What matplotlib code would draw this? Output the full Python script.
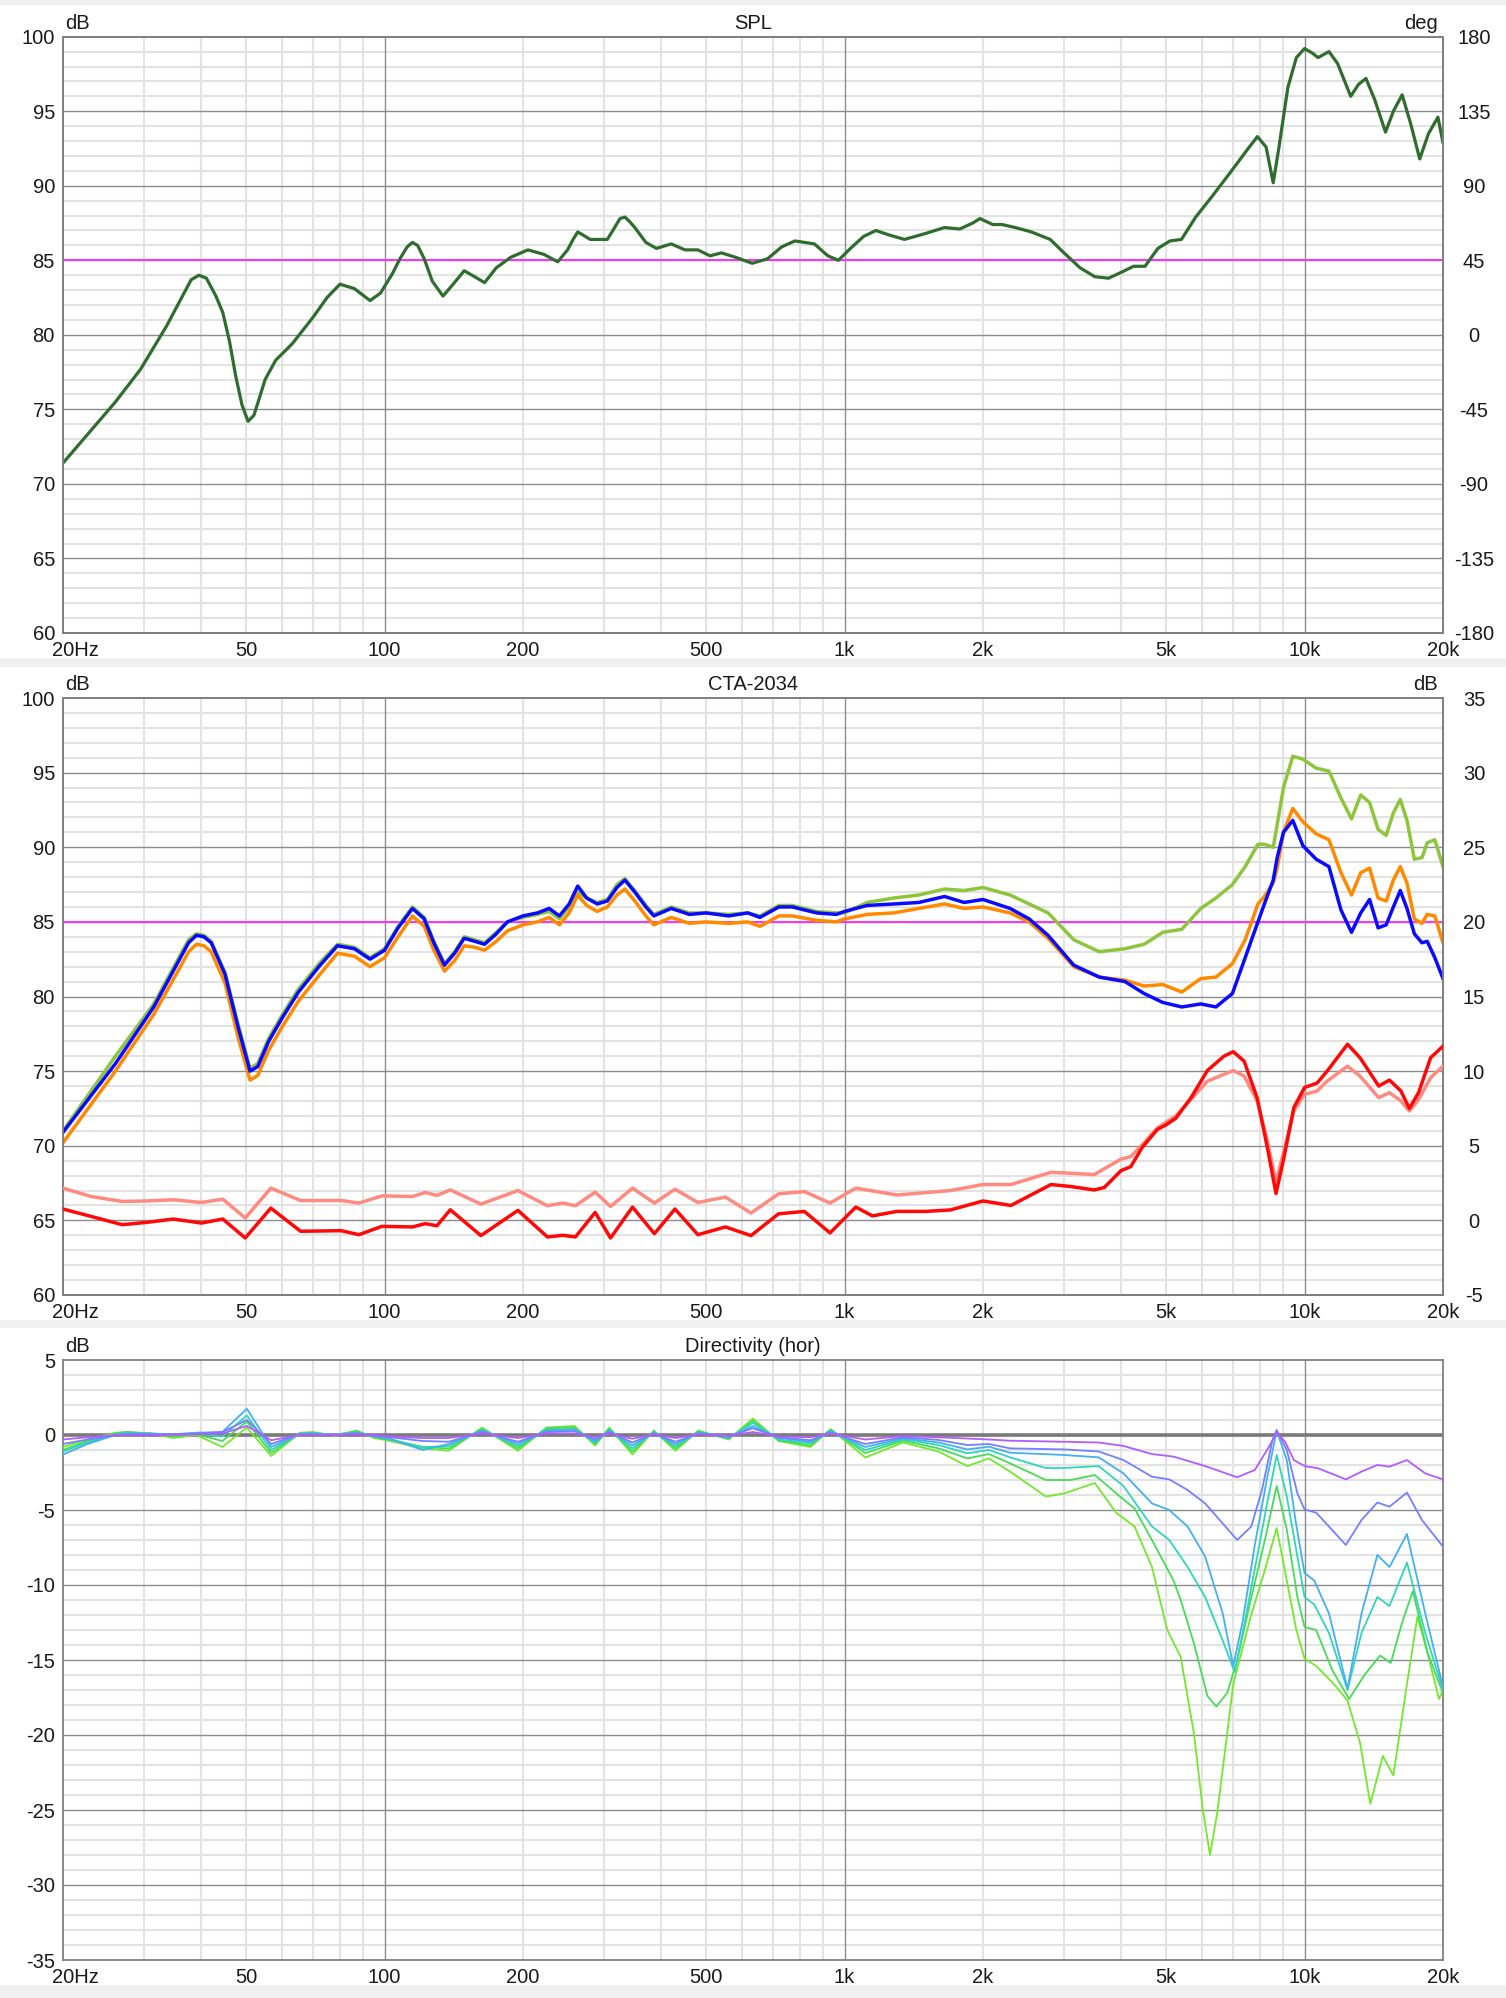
import matplotlib
matplotlib.use('Agg')
import matplotlib.pyplot as plt
from matplotlib.patches import Rectangle
from matplotlib.ticker import NullFormatter

plt.rcParams['font.family'] = ['Liberation Sans', 'DejaVu Sans']
plt.rcParams['axes.unicode_minus'] = False

# ---------------- data ----------------
spl_f = [20, 26, 29.5, 33.6, 36.8, 38, 39.5, 41, 43, 44.5, 46, 47.5, 49, 50.5, 52, 53.5, 55, 58, 63, 70,
         75, 80, 86, 93, 98, 104, 108, 112, 115, 118, 122, 127, 134, 141, 149, 157, 165, 175, 188, 205,
         222, 238, 250, 257, 263, 270, 280, 305, 315, 325, 333, 341, 350, 370, 390, 420, 450, 480, 510, 540,
         580, 630, 680, 730, 780, 860, 920, 970, 1030, 1100, 1170, 1250, 1350, 1500, 1650, 1780, 1900, 1970,
         2100, 2200, 2350, 2550, 2800, 3000, 3250, 3500, 3750, 4000, 4250, 4500, 4800, 5100, 5400, 5800,
         6300, 6900, 7500, 7900, 8250, 8550, 8800, 9200, 9600, 10000, 10400, 10700, 11300, 11800, 12600,
         13100, 13600, 14200, 15000, 15600, 16300, 17000, 17800, 18600, 19500, 20000]
spl_v = [71.4, 75.5, 77.7, 80.6, 82.9, 83.7, 84.0, 83.8, 82.6, 81.5, 79.6, 77.2, 75.3, 74.2, 74.6, 75.8,
         77.0, 78.3, 79.4, 81.2, 82.5, 83.4, 83.1, 82.3, 82.8, 84.1, 85.1, 85.9, 86.2, 86.0, 85.1, 83.6,
         82.6, 83.4, 84.3, 83.9, 83.5, 84.5, 85.2, 85.7, 85.4, 84.9, 85.7, 86.4, 86.9, 86.7, 86.4, 86.4,
         87.1, 87.8, 87.9, 87.6, 87.2, 86.2, 85.8, 86.1, 85.7, 85.7, 85.3, 85.5, 85.2, 84.8, 85.1, 85.9,
         86.3, 86.1, 85.3, 85.0, 85.8, 86.6, 87.0, 86.7, 86.4, 86.8, 87.2, 87.1, 87.5, 87.8, 87.4, 87.4,
         87.2, 86.9, 86.4, 85.5, 84.5, 83.9, 83.8, 84.2, 84.6, 84.6, 85.8, 86.3, 86.4, 87.9, 89.3, 90.9,
         92.4, 93.3, 92.6, 90.2, 92.6, 96.6, 98.6, 99.2, 98.9, 98.6, 99.0, 98.2, 96.0, 96.8, 97.2, 95.8,
         93.6, 95.0, 96.1, 94.2, 91.8, 93.5, 94.6, 92.9]

cta_f = [20, 26, 31.5, 36, 37.5, 39, 40.5, 42, 45, 48, 51, 53, 56, 60, 65, 72, 79, 86, 93, 100, 107, 115,
         122, 128, 135, 142, 149, 157, 165, 175, 185, 200, 215, 228, 240, 252, 263, 275, 290, 305, 320, 333,
         350, 370, 385, 420, 460, 500, 560, 616, 655, 720, 770, 870, 960, 1000, 1120, 1280, 1450, 1650, 1820,
         2000, 2290, 2520, 2770, 3150, 3580, 4070, 4480, 4920, 5410, 5950, 6420, 6970, 7430, 7920, 8180, 8550,
         8720, 9000, 9430, 9920, 10600, 11300, 12000, 12650, 13250, 13850, 14450, 15050, 15600, 16150, 16700,
         17330, 18000, 18480, 19200, 20000]
on_axis = [70.9, 75.5, 79.3, 82.6, 83.6, 84.1, 84.0, 83.6, 81.5, 78.0, 75.0, 75.3,
           77.0, 78.6, 80.3, 82.0, 83.4, 83.2, 82.5, 83.1, 84.6, 85.9,
           85.2, 83.6, 82.1, 82.9, 83.9, 83.7, 83.5, 84.2, 85.0, 85.4,
           85.6, 85.9, 85.4, 86.2, 87.4, 86.6, 86.2, 86.4, 87.3, 87.8,
           87.0, 86.0, 85.4, 85.9, 85.5, 85.6, 85.4, 85.6, 85.3, 86.0,
           86.0, 85.6, 85.5, 85.7,
           86.1, 86.2, 86.3, 86.7, 86.3, 86.5,
           85.9, 85.2, 84.1, 82.1, 81.3, 81.0, 80.2, 79.6, 79.3, 79.5,
           79.3, 80.2, 82.6, 85.0, 86.2, 87.8, 89.3, 91.0, 91.8, 90.1,
           89.2, 88.7, 85.8, 84.3, 85.6, 86.5, 84.6, 84.8, 86.0, 87.1,
           85.9, 84.2, 83.6, 83.7, 82.6, 81.2]
listening_window = [70.2, 75.0, 78.8, 82.0, 83.0, 83.5, 83.4, 83.0, 80.9, 77.3, 74.4, 74.7,
                    76.4, 78.0, 79.7, 81.4, 82.9, 82.7, 82.0, 82.6, 84.0, 85.4,
                    84.7, 83.1, 81.7, 82.4, 83.4, 83.3, 83.1, 83.7, 84.4, 84.8,
                    85.0, 85.3, 84.8, 85.6, 86.8, 86.1, 85.7, 86.0, 86.8, 87.2,
                    86.4, 85.4, 84.8, 85.3, 84.9, 85.0, 84.9, 85.0, 84.7, 85.4,
                    85.4, 85.1, 85.0, 85.2,
                    85.5, 85.6, 85.9, 86.2, 85.9, 86.0,
                    85.6, 85.0, 83.9, 82.0, 81.3, 81.1, 80.7, 80.8, 80.3, 81.2,
                    81.3, 82.2, 83.8, 86.2, 86.7, 87.6, 88.6, 91.0, 92.6, 91.7,
                    90.9, 90.5, 88.3, 86.8, 88.3, 88.6, 86.6, 86.4, 87.8, 88.7,
                    87.6, 85.2, 84.9, 85.5, 85.4, 83.6]
early_reflections = [71.0, 76.0, 79.5, 82.8, 83.8, 84.2, 84.1, 83.7, 81.6, 78.2, 75.2, 75.5,
                     77.2, 78.8, 80.5, 82.2, 83.5, 83.3, 82.6, 83.2, 84.7, 86.0,
                     85.3, 83.7, 82.2, 83.0, 84.0, 83.8, 83.6, 84.3, 85.0, 85.3,
                     85.5, 85.7, 85.2, 86.0, 87.0, 86.6, 86.3, 86.5, 87.5, 87.9,
                     87.1, 86.1, 85.5, 86.0, 85.6, 85.6, 85.5, 85.6, 85.4, 86.1,
                     86.1, 85.7, 85.6, 85.6,
                     86.3, 86.6, 86.8, 87.2, 87.1, 87.3,
                     86.8, 86.2, 85.6, 83.8, 83.0, 83.2, 83.5, 84.3, 84.5, 85.9,
                     86.6, 87.5, 88.7, 90.2, 90.2, 90.0, 91.5, 94.0, 96.1, 95.9,
                     95.3, 95.1, 93.3, 91.9, 93.5, 93.0, 91.2, 90.8, 92.3, 93.2,
                     91.8, 89.2, 89.3, 90.3, 90.5, 88.7]

di_sp_f = [20, 23, 26.9, 30.5, 34.7, 40, 44.5, 49.8, 56.6, 65.7, 80.5, 88, 98.7, 115, 122.6, 130, 139, 162,
           195, 226, 244, 260, 287, 310, 346, 386, 428, 480, 551, 626, 719, 818, 930, 1058, 1150, 1300, 1500,
           1700, 2000, 2300, 2810, 3100, 3490, 3670, 3990, 4190, 4440, 4790, 5000, 5250, 5660, 6150, 6680,
           7000, 7390, 7890, 8300, 8670, 9020, 9480, 10000, 10650, 11200, 12400, 13200, 14500, 15300, 16200,
           16900, 17700, 18800, 20000]
di_sp_v = [0.76, 0.27, -0.29, -0.13, 0.09, -0.18, 0.09, -1.18, 0.82, -0.73,
           -0.69, -0.96, -0.4, -0.44, -0.22, -0.36, 0.71, -1.02, 0.67, -1.11,
           -1.0, -1.11, 0.53, -1.18, 0.89, -0.89, 0.76, -0.96, -0.44, -1.02,
           0.44, 0.6, -0.84, 0.89, 0.3, 0.6, 0.6, 0.7, 1.3, 1.0,
           2.4, 2.27, 2.04, 2.2, 3.33, 3.6, 4.9, 6.1, 6.4, 6.84,
           8.2, 10.04, 11.0, 11.3, 10.67, 8.2, 4.9, 1.8, 4.2, 7.56,
           8.9, 9.2, 10.0, 11.8, 10.9, 9.0, 9.4, 8.67, 7.5, 8.56,
           10.9, 11.67]
di_er_f = [20, 23, 26.9, 30.5, 34.7, 40, 44.5, 49.8, 56.6, 65.7, 80.5, 88, 98.7, 115, 122.6, 130, 139, 162,
           195, 226, 244, 260, 287, 310, 346, 386, 428, 480, 551, 626, 719, 818, 930, 1058, 1300, 1700, 2000,
           2300, 2810, 3100, 3490, 3990, 4190, 4440, 4790, 5250, 5660, 6150, 7000, 7390, 7890, 8300, 8670,
           9020, 9480, 10000, 10650, 11200, 12400, 13200, 14500, 15300, 16200, 16900, 17700, 18800, 20000]
di_er_v = [2.16, 1.6, 1.27, 1.3, 1.38, 1.2, 1.42, 0.16, 2.16, 1.33,
           1.33, 1.16, 1.64, 1.6, 1.87, 1.67, 2.04, 1.09, 2.0, 0.98,
           1.16, 0.98, 1.89, 0.93, 2.16, 1.16, 2.09, 1.2, 1.56, 0.49,
           1.78, 1.93, 1.16, 2.16, 1.7, 2.0, 2.4, 2.4, 3.22, 3.16,
           3.07, 4.1, 4.27, 5.07, 6.2, 7.0, 8.1, 9.33, 10.04, 9.67,
           8.0, 5.33, 2.56, 4.67, 7.33, 8.44, 8.67, 9.33, 10.33, 9.67,
           8.22, 8.56, 8.0, 7.33, 8.1, 9.56, 10.33]

# directivity (horizontal), low-frequency part shared frequency grid
dir_lf_f = [20, 22.6, 26, 27.5, 31, 34.7, 39, 44.4, 50.2, 56.7, 65.4, 70, 77.7, 87, 95, 103, 121, 138, 163,
            195, 225, 259, 287, 308, 346, 385, 429, 481, 560, 632, 719, 843, 933, 1110, 1340]
dir1_lf = [-0.3, -0.15, 0.0, 0.0, 0.0, 0.0, 0.05, 0.1, 0.6, -0.35, 0.0, 0.0, 0.0, 0.05, 0.0, -0.1, -0.2, -0.2,
           0.1, -0.2, 0.1, 0.1, -0.15, 0.1, -0.25, 0.05, -0.2, 0.05, -0.05, 0.2, -0.1, -0.15, 0.1, -0.3, -0.07]
dir2_lf = [-0.6, -0.3, 0.0, 0.05, 0.05, 0.05, 0.1, 0.2, 1.0, -0.6, 0.05, 0.05, 0.0, 0.1, -0.05, -0.15, -0.4,
           -0.45, 0.2, -0.45, 0.2, 0.25, -0.3, 0.2, -0.5, 0.1, -0.45, 0.1, -0.1, 0.45, -0.15, -0.35, 0.15,
           -0.6, -0.15]
dir3_lf = [-1.3, -0.6, 0.0, 0.1, 0.1, 0.05, 0.15, 0.2, 1.75, -0.8, 0.05, 0.1, 0.0, 0.15, -0.1, -0.25, -1.0,
           -0.6, 0.3, -0.6, 0.3, 0.35, -0.4, 0.3, -0.7, 0.15, -0.6, 0.15, -0.15, 0.6, -0.2, -0.45, 0.25,
           -0.8, -0.22]
dir4_lf = [-1.1, -0.5, 0.05, 0.15, 0.1, 0.0, 0.1, -0.1, 1.3, -1.0, 0.1, 0.1, 0.0, 0.2, -0.1, -0.3, -0.8,
           -0.75, 0.35, -0.75, 0.35, 0.4, -0.5, 0.35, -0.9, 0.2, -0.75, 0.2, -0.2, 0.8, -0.3, -0.55, 0.3,
           -1.0, -0.29]
dir5_lf = [-1.0, -0.4, 0.1, 0.2, 0.1, -0.1, 0.05, -0.4, 0.9, -1.2, 0.1, 0.15, 0.0, 0.25, -0.15, -0.35, -0.8,
           -0.9, 0.4, -0.9, 0.45, 0.5, -0.6, 0.4, -1.1, 0.25, -0.9, 0.25, -0.25, 0.95, -0.35, -0.7, 0.35,
           -1.2, -0.38]
dir6_lf = [-0.8, -0.3, 0.15, 0.2, 0.1, -0.2, 0.0, -0.8, 0.5, -1.4, 0.15, 0.2, -0.05, 0.3, -0.2, -0.4, -0.9,
           -1.05, 0.5, -1.05, 0.5, 0.6, -0.7, 0.5, -1.3, 0.3, -1.05, 0.3, -0.3, 1.1, -0.4, -0.8, 0.4, -1.5,
           -0.5]

dir1_hf_f = [1600, 2060, 2290, 2990, 3570, 4040, 4660, 5190, 6080, 7140, 7800, 8370, 8700, 9070, 9480, 10000,
             10700, 11500, 12300, 13300, 14400, 15300, 16700, 18300, 20000]
dir1_hf = [-0.15, -0.3, -0.38, -0.45, -0.5, -0.73, -1.27, -1.44, -2.07, -2.82, -2.33, -0.78, 0.15, -0.44,
           -1.67, -2.07, -2.22, -2.6, -2.96, -2.44, -2.0, -2.11, -1.67, -2.56, -2.96]
dir2_hf_f = [1600, 1850, 2060, 2290, 2990, 3570, 4040, 4660, 5080, 5570, 6080, 6640, 7140, 7660, 8080, 8520,
             8700, 9150, 9650, 10000, 10600, 11300, 12300, 13300, 14400, 15300, 16700, 18000, 20000]
dir2_hf = [-0.33, -0.67, -0.6, -0.89, -0.96, -1.1, -1.67, -2.78, -2.96, -3.67, -4.56, -5.9, -7.0, -6.1, -3.67,
           -0.33, 0.33, -1.0, -3.89, -4.96, -5.18, -6.1, -7.33, -5.67, -4.5, -4.78, -3.84, -5.67, -7.44]
dir3_hf_f = [1600, 1850, 2060, 2290, 2990, 3570, 4040, 4660, 5080, 5570, 6080, 6640, 7000, 7330, 7800, 8300,
             8700, 9150, 9560, 10000, 10500, 11300, 12400, 13300, 14400, 15300, 16700, 18300, 20000]
dir3_hf = [-0.5, -0.96, -0.78, -1.18, -1.33, -1.49, -2.56, -4.56, -5.0, -6.1, -8.1, -11.9, -15.4, -12.5, -7.3,
           -2.8, 0.3, -1.67, -5.7, -9.2, -9.7, -11.9, -16.9, -11.9, -8.0, -8.8, -6.6, -11.9, -16.8]
dir4_hf_f = [1600, 1850, 2060, 2290, 2740, 3000, 3570, 4040, 4660, 5080, 5570, 6080, 6640, 7050, 7400, 7900,
             8300, 8700, 9150, 10000, 10500, 11300, 12400, 13300, 14400, 15300, 16700, 18300, 20000]
dir4_hf = [-0.67, -1.22, -1.0, -1.49, -2.2, -2.2, -2.07, -3.4, -6.1, -7.0, -8.8, -10.8, -13.7, -15.8, -12.6,
           -8.0, -4.5, -1.33, -4.1, -10.8, -11.3, -13.2, -17.0, -13.2, -10.8, -11.4, -8.5, -13.2, -17.0]
dir5_hf_f = [1600, 1850, 2060, 2290, 2740, 3100, 3500, 3900, 4270, 4660, 5190, 5380, 5750, 6150, 6430, 6790,
             7140, 7640, 8200, 8700, 9150, 9650, 10000, 10600, 11500, 12500, 13500, 14600, 15400, 16300, 17200,
             18500, 20000]
dir5_hf = [-0.89, -1.56, -1.27, -1.89, -3.0, -3.0, -2.67, -3.9, -4.9, -7.0, -9.7, -11.0, -13.9, -17.4, -18.1,
           -17.2, -15.0, -11.0, -7.0, -3.4, -6.3, -10.8, -12.8, -13.0, -15.7, -17.6, -16.0, -14.7, -15.2, -12.5,
           -10.4, -14.5, -17.2]
dir6_hf_f = [1600, 1850, 2060, 2290, 2740, 3000, 3500, 3900, 4270, 4660, 5030, 5380, 5750, 6000, 6230, 6460,
             6790, 7000, 7640, 8200, 8700, 9150, 9600, 10000, 10600, 11500, 12400, 13200, 13900, 14800, 15600,
             16700, 17600, 18500, 19600, 20000]
dir6_hf = [-1.1, -2.07, -1.56, -2.44, -4.1, -3.9, -3.2, -5.2, -6.1, -8.8, -13.0, -14.8, -19.9, -24.8, -28.0,
           -25.2, -19.9, -16.6, -12.1, -9.0, -6.2, -9.7, -13.0, -14.9, -15.4, -16.5, -17.7, -20.5, -24.6, -21.4,
           -22.7, -16.6, -12.1, -14.5, -17.6, -17.0]

dir_colors = ['#b25cff', '#7480ff', '#44b0f0', '#2fd6b8', '#45dd55', '#74e82c']

x_labels = [(20, '20Hz'), (50, '50'), (100, '100'), (200, '200'), (500, '500'), (1000, '1k'),
            (2000, '2k'), (5000, '5k'), (10000, '10k'), (20000, '20k')]

# ---------------- figure ----------------
W, H = 1506, 1998
fig = plt.figure(figsize=(W / 100, H / 100), dpi=100)
fig.patch.set_facecolor('white')
for y0, y1 in [(0, 5), (658, 667), (1320, 1328), (1985, 1998)]:
    fig.patches.append(Rectangle((0, 1 - y1 / H), 1, (y1 - y0) / H, transform=fig.transFigure,
                                 facecolor='#f0f0f0', edgecolor='none', zorder=0))

L, R = 63, 1443
FS = 14.5
TXT = '#1a1a1a'
MAJ_C, MIN_C = '#8c8c8c', '#e3e3e3'


def make_ax(top, bottom):
    return fig.add_axes([L / W, 1 - bottom / H, (R - L) / W, (bottom - top) / H])


major_x = [100, 1000, 10000]
minor_x = [d * m for d in (10, 100, 1000, 10000) for m in range(2, 10) if 20 < d * m < 20000]


def style(ax, ylo, yhi, title, left_unit, right_unit=None):
    ax.set_xscale('log')
    ax.set_xlim(20, 20000)
    ax.set_ylim(ylo, yhi)
    ax.set_xticks(major_x)
    ax.set_xticks([], minor=True)
    ax.xaxis.set_major_formatter(NullFormatter())
    ax.set_yticks(list(range(ylo, yhi + 1, 5)))
    ax.set_yticks([], minor=True)
    # grid: minor first, major on top
    for f in minor_x:
        ax.axvline(f, color=MIN_C, lw=1.5, zorder=0.5)
    for v in range(ylo + 1, yhi):
        if v % 5:
            ax.axhline(v, color=MIN_C, lw=1.5, zorder=0.5)
    for f in major_x:
        ax.axvline(f, color=MAJ_C, lw=1.0, zorder=0.8)
    for v in range(ylo + 5, yhi, 5):
        ax.axhline(v, color=MAJ_C, lw=1.0, zorder=0.8)
    ax.tick_params(which='both', length=0)
    ax.tick_params(axis='y', labelsize=FS, pad=5.8, labelcolor=TXT)
    for s in ax.spines.values():
        s.set_color('#808080')
        s.set_linewidth(1.3)
    for f, s in x_labels:
        if s == '20Hz':
            ax.annotate(s, xy=(f, 0), xycoords=('data', 'axes fraction'), xytext=(-8, -6),
                        textcoords='offset points', ha='left', va='top', fontsize=FS, color=TXT,
                        annotation_clip=False)
        else:
            ax.annotate(s, xy=(f, 0), xycoords=('data', 'axes fraction'), xytext=(0, -6),
                        textcoords='offset points', ha='center', va='top', fontsize=FS, color=TXT,
                        annotation_clip=False)
    ax.annotate(title, xy=(0.5, 1), xycoords='axes fraction', xytext=(0, 5.5),
                textcoords='offset points', ha='center', va='baseline', fontsize=FS, color=TXT)
    ax.annotate(left_unit, xy=(0, 1), xycoords='axes fraction', xytext=(1.5, 5.5),
                textcoords='offset points', ha='left', va='baseline', fontsize=FS, color=TXT)
    if right_unit:
        ax.annotate(right_unit, xy=(1, 1), xycoords='axes fraction', xytext=(-3.5, 5.5),
                    textcoords='offset points', ha='right', va='baseline', fontsize=FS, color=TXT)


def right_axis(ax, lo, hi, step):
    axr = ax.twinx()
    axr.set_ylim(lo, hi)
    axr.set_yticks(list(range(lo, hi + 1, step)))
    axr.tick_params(which='both', length=0, labelsize=FS, pad=22.3, labelcolor=TXT)
    for lbl in axr.get_yticklabels():
        lbl.set_horizontalalignment('center')
    for s in axr.spines.values():
        s.set_color('#808080')
        s.set_linewidth(1.3)
    return axr


ax1 = make_ax(36.7, 633)
ax2 = make_ax(698, 1295)
ax3 = make_ax(1360, 1960)

# ---- panel 1: SPL ----
style(ax1, 60, 100, 'SPL', 'dB', 'deg')
ax1b = right_axis(ax1, -180, 180, 45)
ax1.axhline(85, color='#ff30ff', lw=1.4, zorder=1.8)
ax1.plot(spl_f, spl_v, color='#2f6d2f', lw=2.3, solid_joinstyle='round', zorder=3)

# ---- panel 2: CTA-2034 ----
style(ax2, 60, 100, 'CTA-2034', 'dB', 'dB')
ax2b = right_axis(ax2, -5, 35, 5)
ax2.axhline(85, color='#ff30ff', lw=1.4, zorder=1.8)
ax2.plot(cta_f, early_reflections, color='#8dc63c', lw=2.5, solid_joinstyle='round', zorder=3)
ax2.plot(cta_f, listening_window, color='#ff8a00', lw=2.5, solid_joinstyle='round', zorder=4)
ax2.plot(cta_f, on_axis, color='#0a0aff', lw=2.5, solid_joinstyle='round', zorder=5)
ax2b.plot(di_er_f, di_er_v, color='#ff8a80', lw=2.5, solid_joinstyle='round', zorder=3)
ax2b.plot(di_sp_f, di_sp_v, color='#ff0808', lw=2.5, solid_joinstyle='round', zorder=4)

# ---- panel 3: Directivity ----
style(ax3, -35, 5, 'Directivity (hor)', 'dB')
ax3.axhline(0, color='#7a7a7a', lw=2.6, zorder=1.8)
dir_sets = [(dir1_lf, dir1_hf_f, dir1_hf), (dir2_lf, dir2_hf_f, dir2_hf), (dir3_lf, dir3_hf_f, dir3_hf),
            (dir4_lf, dir4_hf_f, dir4_hf), (dir5_lf, dir5_hf_f, dir5_hf), (dir6_lf, dir6_hf_f, dir6_hf)]
for i, (lf, hf_f, hf) in enumerate(dir_sets):
    ax3.plot(dir_lf_f + hf_f, lf + hf, color=dir_colors[i], lw=1.3, solid_joinstyle='round',
             zorder=3 + (5 - i) * 0.1)

fig.savefig('out.png', dpi=100, facecolor='white')
